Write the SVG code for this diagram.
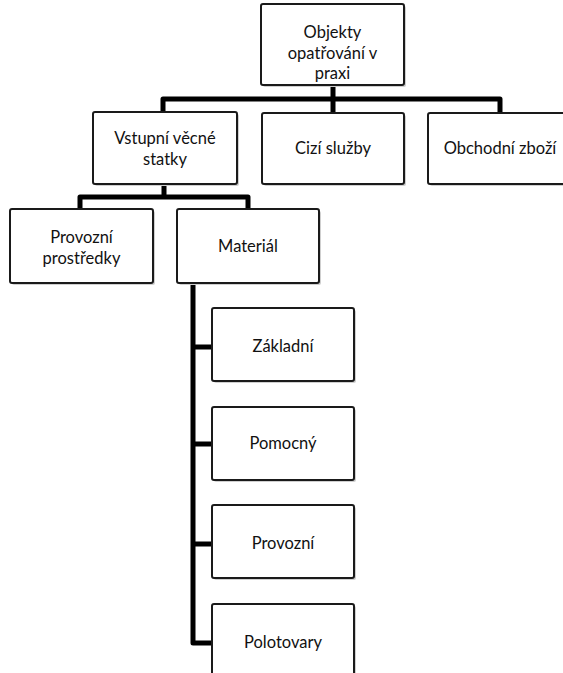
<svg xmlns="http://www.w3.org/2000/svg" width="563" height="673" viewBox="0 0 563 673">
<style>
.box{fill:#fff;stroke:#1a1a1a;stroke-width:2}
.sh{fill:#cfcfcf}
.t{font-family:Lato,"Open Sans","Liberation Sans",sans-serif;font-size:16.5px;fill:#111;text-anchor:middle}
.c{fill:none;stroke:#000;stroke-width:5;stroke-linejoin:round}
</style>
<rect width="563" height="673" fill="#fff"/>
<g id="connectors">
<path class="c" d="M333 85 V99 M163 112 V99 H500 V113 M333 99 V113"/>
<path class="c" d="M164 184 V197 M80 209 V197 H248 V209"/>
<path class="c" d="M212 347 H193 V283 M193 347 V643 H212 M193 444 H212 M193 544 H212"/>
</g>
<g id="n-top"><rect class="sh" x="263" y="6" width="143" height="81" rx="2"/><rect class="box" x="261" y="4" width="143" height="81" rx="2"/><text class="t" x="332.5" y="38">Objekty</text><text class="t" x="332.5" y="59">opatřování v</text><text class="t" x="332.5" y="79">praxi</text></g>
<g id="n-vstupni"><rect class="sh" x="95" y="114" width="144" height="72" rx="2"/><rect class="box" x="93" y="112" width="144" height="72" rx="2"/><text class="t" x="165" y="144">Vstupní věcné</text><text class="t" x="165" y="165">statky</text></g>
<g id="n-cizi"><rect class="sh" x="264" y="115" width="142" height="71" rx="2"/><rect class="box" x="262" y="113" width="142" height="71" rx="2"/><text class="t" x="333" y="154">Cizí služby</text></g>
<g id="n-obchodni"><rect class="sh" x="430" y="115" width="144" height="71" rx="2"/><rect class="box" x="428" y="113" width="144" height="71" rx="2"/><text class="t" x="500" y="154">Obchodní zboží</text></g>
<g id="n-provprostr"><rect class="sh" x="12" y="211" width="143" height="74" rx="2"/><rect class="box" x="10" y="209" width="143" height="74" rx="2"/><text class="t" x="81.5" y="243">Provozní</text><text class="t" x="81.5" y="264">prostředky</text></g>
<g id="n-material"><rect class="sh" x="179" y="211" width="142" height="74" rx="2"/><rect class="box" x="177" y="209" width="142" height="74" rx="2"/><text class="t" x="248" y="252">Materiál</text></g>
<g id="n-zakladni"><rect class="sh" x="214" y="310" width="142" height="73" rx="2"/><rect class="box" x="212" y="308" width="142" height="73" rx="2"/><text class="t" x="283" y="352">Základní</text></g>
<g id="n-pomocny"><rect class="sh" x="214" y="409" width="142" height="73" rx="2"/><rect class="box" x="212" y="407" width="142" height="73" rx="2"/><text class="t" x="283" y="449">Pomocný</text></g>
<g id="n-provozni"><rect class="sh" x="214" y="507" width="142" height="73" rx="2"/><rect class="box" x="212" y="505" width="142" height="73" rx="2"/><text class="t" x="283" y="549">Provozní</text></g>
<g id="n-polotovary"><rect class="sh" x="214" y="606" width="142" height="73" rx="2"/><rect class="box" x="212" y="604" width="142" height="73" rx="2"/><text class="t" x="283" y="648">Polotovary</text></g>
</svg>
